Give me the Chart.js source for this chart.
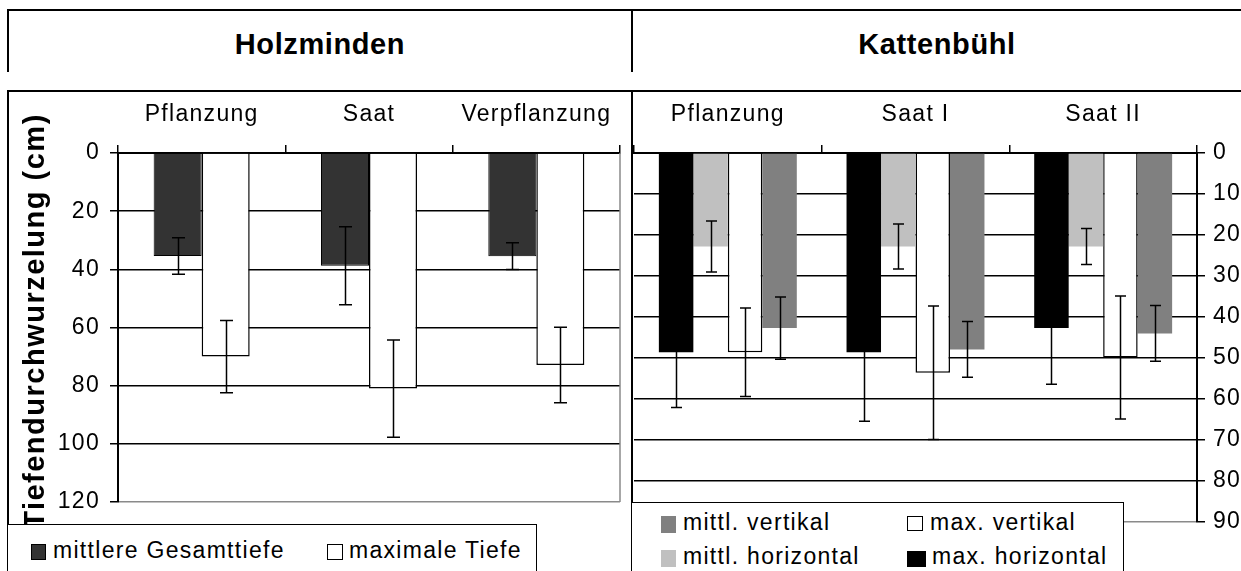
<!DOCTYPE html>
<html lang="de">
<head>
<meta charset="utf-8">
<title>Tiefendurchwurzelung – Holzminden und Kattenbühl</title>
<script src="https://cdn.jsdelivr.net/npm/chart.js@4.4.1/dist/chart.umd.min.js"></script>
<style>
  html, body { margin: 0; padding: 0; background: #fff; }
  #page { position: relative; width: 1241px; height: 571px; overflow: hidden; background: #fff;
          font-family: "Liberation Sans", Arial, sans-serif; color: #000; }
  .rule { position: absolute; background: #000; }
  .site { position: absolute; top: 29.5px; font-weight: bold; font-size: 29px; line-height: 29px;
          letter-spacing: 0.6px; text-align: center; white-space: nowrap; }
  canvas { position: absolute; display: block; }
  #ytitle { position: absolute; left: 34px; top: 321px; font-weight: bold; font-size: 29px; line-height: 29px;
            letter-spacing: 1.5px; white-space: nowrap; transform: translate(-50%, -50%) rotate(-90deg); }
  .legend { position: absolute; background: #fff; border: 1.5px solid #000; box-sizing: border-box; }
  .key { position: absolute; white-space: nowrap; font-size: 23px; line-height: 23px; letter-spacing: 1.3px; }
  .swatch { position: absolute; box-sizing: border-box; }
</style>
</head>
<body>
<div id="page">
  <canvas id="holz" width="633" height="479" style="left:0;top:92px;width:633px;height:479px"></canvas>
  <canvas id="katt" width="608" height="479" style="left:633px;top:92px;width:608px;height:479px"></canvas>

  <!-- header row -->
  <div class="rule" style="left:7px;top:9px;width:1234px;height:2px"></div>
  <div class="rule" style="left:7px;top:9px;width:2px;height:63px"></div>
  <div class="rule" style="left:631px;top:9px;width:2px;height:63px"></div>
  <div class="site" style="left:9px;width:622px">Holzminden</div>
  <div class="site" style="left:633px;width:608px">Kattenbühl</div>

  <!-- chart frame -->
  <div class="rule" style="left:7px;top:90px;width:1234px;height:2px"></div>
  <div class="rule" style="left:7px;top:90px;width:2px;height:481px"></div>
  <div class="rule" style="left:631px;top:90px;width:2px;height:481px"></div>

  <div id="ytitle">Tiefendurchwurzelung (cm)</div>
</div>

<script>
// ---- Holzminden: rooting depth per stand type (cm) ----
const holzCategories  = ['Pflanzung', 'Saat', 'Verpflanzung'];
const holzMeanDepth   = [35.4, 38.8, 35.5];
const holzMeanDepthSd = [6.3, 13.4, 4.6];
const holzMaxDepth    = [70.0, 81.0, 72.9];
const holzMaxDepthSd  = [12.4, 16.7, 13.0];
const holzTicks       = [0, 20, 40, 60, 80, 100, 120];

// ---- Kattenbühl: vertical and horizontal root extent (cm) ----
const kattCategories   = ['Pflanzung', 'Saat I', 'Saat II'];
const kattMaxHoriz     = [48.6, 48.6, 42.7];
const kattMaxHorizSd   = [13.5, 16.8, 13.7];
const kattMeanHoriz    = [22.8, 22.8, 22.8];
const kattMeanHorizSd  = [6.2, 5.5, 4.4];
const kattMaxVert      = [48.6, 53.6, 49.9];
const kattMaxVertSd    = [10.8, 16.3, 15.0];
const kattMeanVert     = [42.7, 47.9, 44.0];
const kattMeanVertSd   = [7.6, 6.8, 6.8];
const kattTicks        = [0, 10, 20, 30, 40, 50, 60, 70, 80, 90];

Chart.defaults.font.family = '"Liberation Sans", Arial, sans-serif';
Chart.defaults.font.size = 23;
Chart.defaults.color = '#000';

// slightly wider text run, like the spreadsheet export
const textSpacing = {
  id: 'textSpacing',
  beforeDraw(chart, args, opts) {
    if ('letterSpacing' in chart.ctx) chart.ctx.letterSpacing = opts.value || '0px';
  }
};

// symmetric error bars (± standard deviation) centred on each bar
const errorBars = {
  id: 'errorBars',
  afterDatasetsDraw(chart, args, opts) {
    const ctx = chart.ctx, y = chart.scales.y;
    ctx.save();
    ctx.strokeStyle = '#000';
    ctx.lineWidth = opts.width;
    chart.data.datasets.forEach((ds, i) => {
      if (!ds.errors) return;
      chart.getDatasetMeta(i).data.forEach((bar, j) => {
        const v = ds.data[j], e = ds.errors[j];
        const y1 = y.getPixelForValue(v - e), y2 = y.getPixelForValue(v + e);
        const x = Math.round(bar.x) + 0.5;
        ctx.beginPath();
        ctx.moveTo(x, y1); ctx.lineTo(x, y2);
        ctx.moveTo(x - opts.cap, y1); ctx.lineTo(x + opts.cap, y1);
        ctx.moveTo(x - opts.cap, y2); ctx.lineTo(x + opts.cap, y2);
        ctx.stroke();
      });
    });
    ctx.restore();
  }
};

// grey plot-area edge on the sides without an axis
const plotFrame = {
  id: 'plotFrame',
  beforeDatasetsDraw(chart, args, opts) {
    const ctx = chart.ctx, a = chart.chartArea;
    if (!opts.sides || !opts.sides.length) return;
    ctx.save();
    ctx.strokeStyle = opts.color;
    ctx.lineWidth = opts.width;
    ctx.beginPath();
    opts.sides.forEach(s => {
      if (s === 'right') { ctx.moveTo(a.right, a.top); ctx.lineTo(a.right, a.bottom); }
      if (s === 'left')  { ctx.moveTo(a.left, a.top);  ctx.lineTo(a.left, a.bottom); }
    });
    ctx.stroke();
    ctx.restore();
  }
};

function siteAxis(height) {
  return {
    position: 'top',
    offset: true,
    grid: { offset: true, drawOnChartArea: false, tickLength: 8, color: '#000', lineWidth: 1.5 },
    border: { display: true, color: '#000', width: 2 },
    ticks: { padding: 17, color: '#000', maxRotation: 0, minRotation: 0, autoSkip: false },
    afterFit: s => { s.height = height; s.paddingLeft = 0; s.paddingRight = 0; }
  };
}

function depthAxis(ticks, position, width, padding) {
  const last = ticks[ticks.length - 1];
  return {
    position,
    reverse: true,
    min: ticks[0],
    max: last,
    afterBuildTicks: s => { s.ticks = ticks.map(v => ({ value: v })); },
    ticks: { padding, color: '#000' },
    grid: {
      color: c => (c.tick && c.tick.value === last) ? '#8a8a8a' : '#000',
      lineWidth: 1.5, tickLength: 8, tickColor: '#000', tickWidth: 1.5
    },
    border: { display: true, color: '#000', width: 2 },
    afterFit: s => { s.width = width; s.paddingTop = 0; s.paddingBottom = 0; }
  };
}

function baseOptions(padding, catPct, cap, frameSides) {
  return {
    responsive: false,
    maintainAspectRatio: false,
    devicePixelRatio: 1,
    animation: false,
    events: [],
    layout: { padding },
    datasets: { bar: { categoryPercentage: catPct, barPercentage: 1 } },
    plugins: {
      legend: { display: false },
      tooltip: { enabled: false },
      textSpacing: { value: '1.3px' },
      errorBars: { width: 1.5, cap },
      plotFrame: { sides: frameSides, color: '#8a8a8a', width: 1.5 }
    }
  };
}

// ---------- Holzminden ----------
const holzDatasets = [
  { label: 'mittlere Gesamttiefe', data: holzMeanDepth, errors: holzMeanDepthSd,
    backgroundColor: '#333333', borderColor: '#000', borderWidth: 1 },
  { label: 'maximale Tiefe', data: holzMaxDepth, errors: holzMaxDepthSd,
    backgroundColor: '#ffffff', borderColor: '#000', borderWidth: 1.5 }
];
const holzOptions = baseOptions({ left: 0, right: 13, top: 0, bottom: 69 }, 0.574, 6.5, ['right']);
holzOptions.scales = { x: siteAxis(61), y: depthAxis(holzTicks, 'left', 118, 10) };
new Chart(document.getElementById('holz'), {
  type: 'bar',
  data: { labels: holzCategories, datasets: holzDatasets },
  options: holzOptions,
  plugins: [textSpacing, plotFrame, errorBars]
});

// ---------- Kattenbühl ----------
const kattDatasets = [
  { label: 'max. horizontal', data: kattMaxHoriz, errors: kattMaxHorizSd,
    backgroundColor: '#000000', borderWidth: 0 },
  { label: 'mittl. horizontal', data: kattMeanHoriz, errors: kattMeanHorizSd,
    backgroundColor: '#c0c0c0', borderWidth: 0 },
  { label: 'max. vertikal', data: kattMaxVert, errors: kattMaxVertSd,
    backgroundColor: '#ffffff', borderColor: '#000', borderWidth: 1.5 },
  { label: 'mittl. vertikal', data: kattMeanVert, errors: kattMeanVertSd,
    backgroundColor: '#808080', borderWidth: 0 }
];
const kattOptions = baseOptions({ left: 1, right: 0, top: 0, bottom: 49 }, 0.735, 5.5, []);
kattOptions.scales = { x: siteAxis(61), y: depthAxis(kattTicks, 'right', 44, 8) };
new Chart(document.getElementById('katt'), {
  type: 'bar',
  data: { labels: kattCategories, datasets: kattDatasets },
  options: kattOptions,
  plugins: [textSpacing, plotFrame, errorBars]
});

// ---------- legends (built from the dataset styles) ----------
const page = document.getElementById('page');
function legendBox(box, entries) {
  const b = document.createElement('div');
  b.className = 'legend';
  Object.assign(b.style, { left: box[0] + 'px', top: box[1] + 'px', width: box[2] + 'px', height: box[3] + 'px' });
  page.appendChild(b);
  entries.forEach(([ds, sw, textX, baseline]) => {
    const s = document.createElement('div');
    s.className = 'swatch';
    Object.assign(s.style, {
      left: sw[0] + 'px', top: sw[1] + 'px', width: sw[2] + 'px', height: sw[3] + 'px',
      background: ds.backgroundColor,
      border: ds.borderWidth ? '1px solid #000' : 'none'
    });
    page.appendChild(s);
    const t = document.createElement('div');
    t.className = 'key';
    t.textContent = ds.label;
    Object.assign(t.style, { left: textX + 'px', top: (baseline - 19.5) + 'px' });
    page.appendChild(t);
  });
}
legendBox([7, 524, 530, 60], [
  [holzDatasets[0], [31, 544, 15, 16], 53, 558],
  [holzDatasets[1], [327, 544, 16, 16], 349, 558]
]);
legendBox([631, 502, 493, 80], [
  [kattDatasets[3], [661, 516, 15, 17], 683, 530],
  [kattDatasets[2], [907, 516, 16, 15], 930, 530],
  [kattDatasets[1], [661, 550, 15, 17], 683, 564],
  [kattDatasets[0], [907, 551, 19, 16], 932, 564]
]);
</script>
</body>
</html>
